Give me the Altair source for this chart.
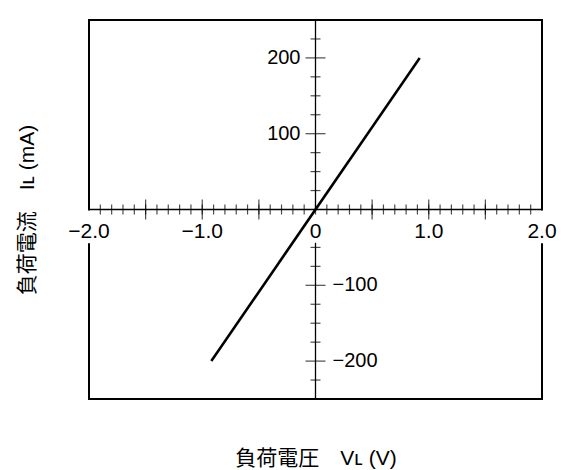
import altair as alt
import pandas as pd

# ---- data ----
line_v = [-0.92, 0.92]          # V_L (V)
line_i = [-200, 200]            # I_L (mA)

x_minor = [round(-2 + 0.1 * k, 1) for k in range(1, 40)]
x_major = [-1.5, -1.0, -0.5, 0.5, 1.0, 1.5]
y_minor = [-225, -175, -150, -125, -75, -50, 25, 50, 75, 125, 150, 175, 225]
y_major = [-200, -100, 100, 200]

# vertical lines (frame sides and y axis), each broken behind its x label
vert_x = [-2, -2, 0, 0, 2, 2]
vert_from = [0, -250, 0, -250, 0, -250]
vert_to = [250, -46, 250, -44, 250, -46]
# horizontal frame edges
frame_y = [-250, 250]

x_label_vals = [-2.0, -1.0, 0.0, 1.0, 2.0]
x_label_text = ["−2.0", "−1.0", "0", "1.0", "2.0"]
y_pos_vals = [100, 200]
y_pos_text = ["100", "200"]
y_neg_vals = [-100, -200]
y_neg_text = ["−100", "−200"]

x_title = "負荷電圧　Vʟ (V)"
y_title = "負荷電流　Iʟ (mA)"

FONT = "Liberation Sans, Arial, Noto Sans CJK JP, sans-serif"

W, H = 453, 379

xs = alt.Scale(domain=[-2, 2], nice=False, zero=False)
ys = alt.Scale(domain=[-250, 250], nice=False, zero=False)

line_df = pd.DataFrame({"v": line_v, "i": line_i})

base_line = alt.Chart(line_df).mark_line(color="black", strokeWidth=2.6).encode(
    x=alt.X("v:Q", scale=xs,
            axis=alt.Axis(title=x_title, labels=False, ticks=False, domain=False, grid=False,
                          titleFont=FONT, titleFontSize=21, titleFontWeight="normal",
                          titleColor="black", titlePadding=48)),
    y=alt.Y("i:Q", scale=ys,
            axis=alt.Axis(title=y_title, labels=False, ticks=False, domain=False, grid=False,
                          titleFont=FONT, titleFontSize=21, titleFontWeight="normal",
                          titleColor="black", titlePadding=52)),
)

# frame: horizontal edges
hf_df = pd.DataFrame({"y": frame_y})
frame_h = alt.Chart(hf_df).mark_rule(color="black", strokeWidth=2, strokeCap="square").encode(
    y=alt.Y("y:Q", scale=ys))

# vertical pieces: frame sides (2px) and y axis (1.3px)
vf_df = pd.DataFrame({"x": vert_x, "a": vert_from, "b": vert_to})
frame_v = alt.Chart(vf_df).transform_filter("datum.x != 0").mark_rule(
    color="black", strokeWidth=2, strokeCap="square").encode(
    x=alt.X("x:Q", scale=xs), y=alt.Y("a:Q", scale=ys), y2="b:Q")
y_axis_line = alt.Chart(vf_df).transform_filter("datum.x == 0").mark_rule(
    color="black", strokeWidth=1.3).encode(
    x=alt.X("x:Q", scale=xs), y=alt.Y("a:Q", scale=ys), y2="b:Q")

zero_df = pd.DataFrame({"z": [0]})
x_axis_line = alt.Chart(zero_df).mark_rule(color="black", strokeWidth=1.3).encode(
    y=alt.Y("z:Q", scale=ys))

xminor_df = pd.DataFrame({"t": x_minor, "z": [0] * len(x_minor)})
xmajor_df = pd.DataFrame({"t": x_major, "z": [0] * len(x_major)})
yminor_df = pd.DataFrame({"t": y_minor, "z": [0] * len(y_minor)})
ymajor_df = pd.DataFrame({"t": y_major, "z": [0] * len(y_major)})

xminor = alt.Chart(xminor_df).mark_tick(orient="vertical", size=10, thickness=1.2, color="black").encode(
    x=alt.X("t:Q", scale=xs), y=alt.Y("z:Q", scale=ys))
xmajor = alt.Chart(xmajor_df).mark_tick(orient="vertical", size=20, thickness=1.2, color="black").encode(
    x=alt.X("t:Q", scale=xs), y=alt.Y("z:Q", scale=ys))
yminor = alt.Chart(yminor_df).mark_tick(orient="horizontal", size=10, thickness=1.2, color="black").encode(
    y=alt.Y("t:Q", scale=ys), x=alt.X("z:Q", scale=xs))
ymajor = alt.Chart(ymajor_df).mark_tick(orient="horizontal", size=20, thickness=1.2, color="black").encode(
    y=alt.Y("t:Q", scale=ys), x=alt.X("z:Q", scale=xs))

xl_df = pd.DataFrame({"v": x_label_vals, "s": x_label_text, "z": [0] * len(x_label_vals)})
xlabels = alt.Chart(xl_df).mark_text(font=FONT, fontSize=21, color="black", baseline="middle", dy=22).encode(
    x=alt.X("v:Q", scale=xs), y=alt.Y("z:Q", scale=ys), text="s:N")

yp_df = pd.DataFrame({"v": y_pos_vals, "s": y_pos_text, "z": [0] * len(y_pos_vals)})
yplabels = alt.Chart(yp_df).mark_text(font=FONT, fontSize=20, color="black", align="right",
                                      baseline="middle", dx=-15).encode(
    y=alt.Y("v:Q", scale=ys), x=alt.X("z:Q", scale=xs), text="s:N")

yn_df = pd.DataFrame({"v": y_neg_vals, "s": y_neg_text, "z": [0] * len(y_neg_vals)})
ynlabels = alt.Chart(yn_df).mark_text(font=FONT, fontSize=20, color="black", align="left",
                                      baseline="middle", dx=17).encode(
    y=alt.Y("v:Q", scale=ys), x=alt.X("z:Q", scale=xs), text="s:N")

chart = alt.layer(
    base_line, frame_h, frame_v, x_axis_line, y_axis_line, xminor, xmajor, yminor, ymajor,
    xlabels, yplabels, ynlabels,
).properties(
    width=W, height=H,
    background="white",
    autosize=alt.AutoSizeParams(type="none"),
    padding={"left": 81, "top": 12, "right": 19, "bottom": 75},
).configure_view(
    stroke=None, strokeWidth=0,
)

chart.save("out.html", embed_options={"renderer": "svg", "actions": False})
